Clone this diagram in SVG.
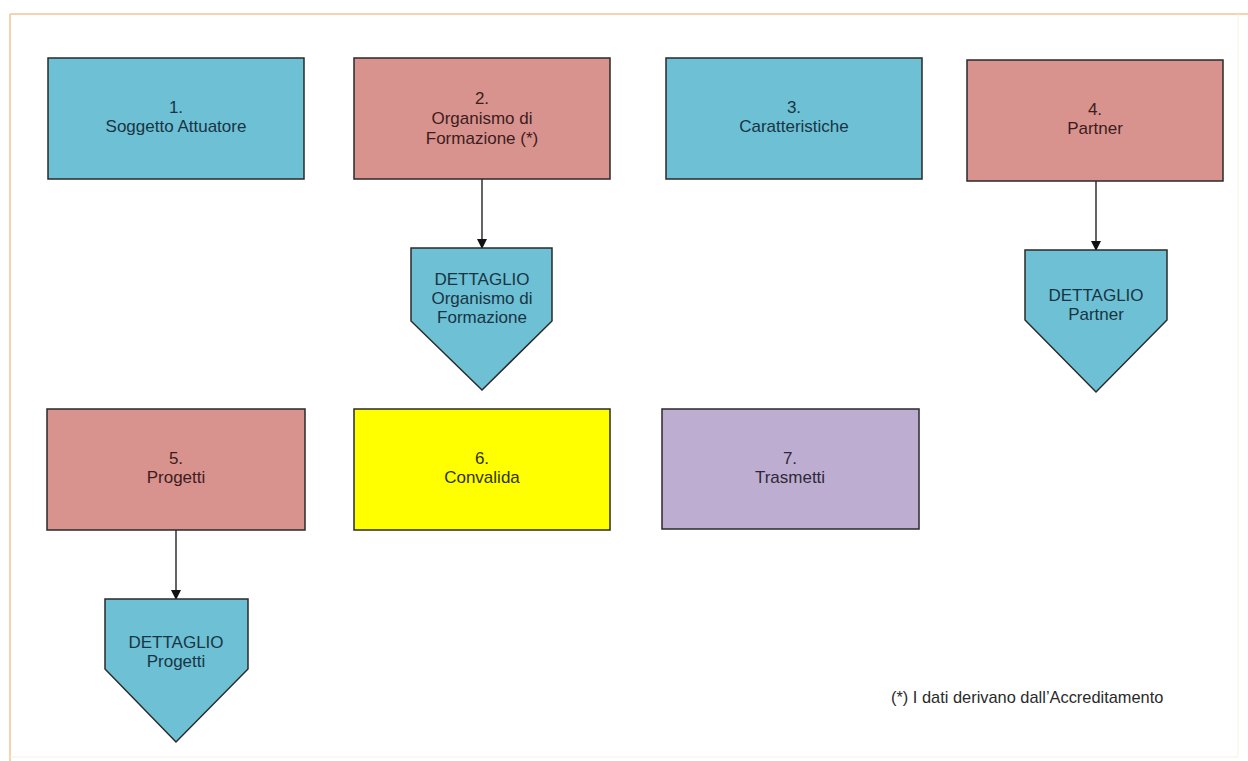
<svg xmlns="http://www.w3.org/2000/svg" width="1248" height="761" viewBox="0 0 1248 761">
<defs>
<style>
.box{stroke:#2a2a2a;stroke-width:1.5}
.blue{fill:#6ec0d4}
.red{fill:#d8938f}
.yellow{fill:#ffff00}
.purple{fill:#bdaed1}
text{font-family:"Liberation Sans",Arial,sans-serif;font-size:17px;text-anchor:middle}
.tb{fill:#183544}
.tr{fill:#3e1c1c}
.ty{fill:#333300}
.tp{fill:#2e2838}
.conn{stroke:#111;stroke-width:1.3;fill:none}
</style>
<marker id="arr" markerWidth="10" markerHeight="10" refX="9" refY="5" orient="auto" markerUnits="userSpaceOnUse">
<path d="M0,0 L10,5 L0,10 Z" fill="#111"/>
</marker>
</defs>
<rect x="0" y="0" width="1248" height="761" fill="#ffffff"/>
<g id="frame">
<line x1="10" y1="14" x2="1248" y2="14" stroke="#f2c597" stroke-width="1.5"/>
<line x1="10" y1="14" x2="10" y2="761" stroke="#f2c597" stroke-width="1.5"/>
<line x1="1238" y1="14" x2="1238" y2="757" stroke="#fbefe2" stroke-width="1"/>
<line x1="10" y1="757" x2="1238" y2="757" stroke="#fbefe2" stroke-width="1"/>
</g>
<g id="connectors">
<line class="conn" x1="482" y1="179" x2="482" y2="248" marker-end="url(#arr)"/>
<line class="conn" x1="1096" y1="181" x2="1096" y2="250" marker-end="url(#arr)"/>
<line class="conn" x1="176" y1="530" x2="176" y2="599" marker-end="url(#arr)"/>
</g>
<g id="n1">
<rect class="box blue" x="48" y="58" width="256" height="121"/>
<text class="tb" x="176" y="113">1.</text>
<text class="tb" x="176" y="132">Soggetto Attuatore</text>
</g>
<g id="n2">
<rect class="box red" x="354" y="58" width="256" height="121"/>
<text class="tr" x="482" y="104">2.</text>
<text class="tr" x="482" y="124">Organismo di</text>
<text class="tr" x="482" y="144">Formazione (*)</text>
</g>
<g id="n3">
<rect class="box blue" x="666" y="58" width="256" height="121"/>
<text class="tb" x="794" y="113">3.</text>
<text class="tb" x="794" y="132">Caratteristiche</text>
</g>
<g id="n4">
<rect class="box red" x="967" y="60" width="256" height="121"/>
<text class="tr" x="1095" y="115">4.</text>
<text class="tr" x="1095" y="134">Partner</text>
</g>
<g id="d2">
<polygon class="box blue" points="411,248 552,248 552,321 482,390 411,321"/>
<text class="tb" x="482" y="285">DETTAGLIO</text>
<text class="tb" x="482" y="304">Organismo di</text>
<text class="tb" x="482" y="323">Formazione</text>
</g>
<g id="d4">
<polygon class="box blue" points="1025,250 1167,250 1167,320 1096,392 1025,320"/>
<text class="tb" x="1096" y="301">DETTAGLIO</text>
<text class="tb" x="1096" y="320">Partner</text>
</g>
<g id="n5">
<rect class="box red" x="47" y="409" width="258" height="121"/>
<text class="tr" x="176" y="464">5.</text>
<text class="tr" x="176" y="483">Progetti</text>
</g>
<g id="n6">
<rect class="box yellow" x="354" y="409" width="256" height="121"/>
<text class="ty" x="482" y="464">6.</text>
<text class="ty" x="482" y="483">Convalida</text>
</g>
<g id="n7">
<rect class="box purple" x="662" y="409" width="257" height="120"/>
<text class="tp" x="790" y="464">7.</text>
<text class="tp" x="790" y="483">Trasmetti</text>
</g>
<g id="d5">
<polygon class="box blue" points="105,599 248,599 248,669 176,742 105,669"/>
<text class="tb" x="176" y="648">DETTAGLIO</text>
<text class="tb" x="176" y="667">Progetti</text>
</g>
<g id="note">
<text x="891" y="703" style="font-size:16.4px;text-anchor:start;fill:#2a2a2a">(*) I dati derivano dall’Accreditamento</text>
</g>
</svg>
